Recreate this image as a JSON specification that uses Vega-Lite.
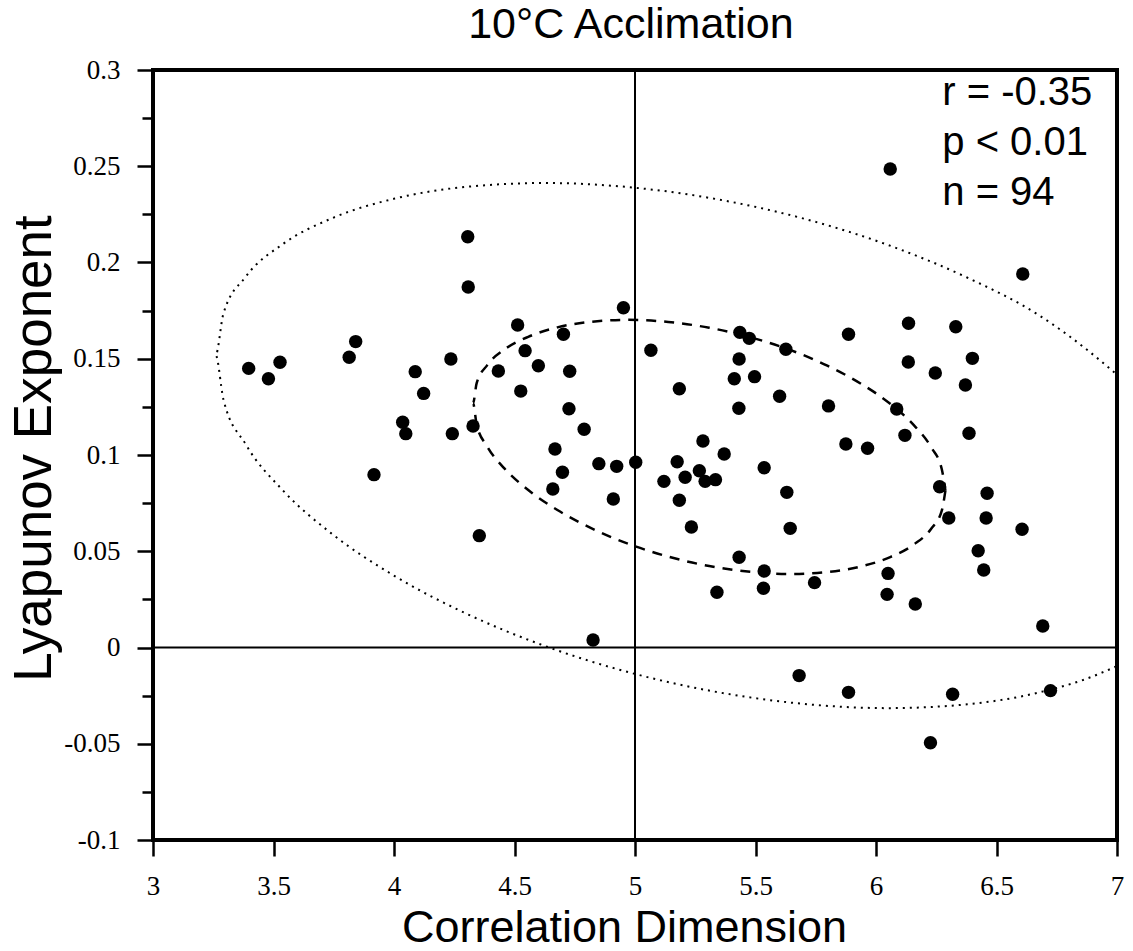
{
  "$schema": "https://vega.github.io/schema/vega-lite/v6.json",
  "width": 964,
  "height": 770,
  "autosize": {"type": "none"},
  "padding": {"left": 153, "top": 70, "right": 16, "bottom": 111},
  "background": "white",
  "config": {
    "view": {"stroke": "black", "strokeWidth": 4},
    "axis": {
      "domain": false,
      "grid": false,
      "tickColor": "black",
      "tickWidth": 2.5,
      "labelFont": "Liberation Serif",
      "labelFontSize": 27,
      "labelColor": "black",
      "labelOverlap": false,
      "labelFlush": false,
      "titleFont": "Liberation Sans",
      "titleFontWeight": "normal",
      "titleColor": "black"
    }
  },
  "datasets": {
    "points": [
      {"x":3.397,"y":0.1450},{"x":3.479,"y":0.1396},{"x":3.527,"y":0.1482},{"x":3.814,"y":0.1508},{"x":3.841,"y":0.1589},
      {"x":3.917,"y":0.0898},{"x":4.036,"y":0.1170},{"x":4.049,"y":0.1111},{"x":4.088,"y":0.1433},{"x":4.123,"y":0.1320},
      {"x":4.236,"y":0.1499},{"x":4.242,"y":0.1111},{"x":4.306,"y":0.2134},{"x":4.308,"y":0.1873},{"x":4.328,"y":0.1151},
      {"x":4.354,"y":0.0581},{"x":4.433,"y":0.1436},{"x":4.513,"y":0.1675},{"x":4.526,"y":0.1332},{"x":4.544,"y":0.1542},
      {"x":4.599,"y":0.1464},{"x":4.659,"y":0.0823},{"x":4.668,"y":0.1031},{"x":4.699,"y":0.0910},{"x":4.703,"y":0.1627},
      {"x":4.729,"y":0.1435},{"x":4.726,"y":0.1240},{"x":4.789,"y":0.1134},{"x":4.850,"y":0.0955},{"x":4.910,"y":0.0771},
      {"x":4.924,"y":0.0941},{"x":4.952,"y":0.1765},{"x":5.003,"y":0.0962},{"x":4.826,"y":0.0039},{"x":5.066,"y":0.1544},
      {"x":5.120,"y":0.0863},{"x":5.175,"y":0.0965},{"x":5.184,"y":0.1344},{"x":5.184,"y":0.0765},{"x":5.208,"y":0.0884},
      {"x":5.234,"y":0.0626},{"x":5.267,"y":0.0918},{"x":5.282,"y":0.1073},{"x":5.291,"y":0.0863},{"x":5.334,"y":0.0872},
      {"x":5.340,"y":0.0287},{"x":5.370,"y":0.1005},{"x":5.412,"y":0.1396},{"x":5.431,"y":0.1243},{"x":5.432,"y":0.1499},
      {"x":5.432,"y":0.0469},{"x":5.435,"y":0.1637},{"x":5.474,"y":0.1606},{"x":5.496,"y":0.1407},{"x":5.533,"y":0.0308},
      {"x":5.536,"y":0.0934},{"x":5.536,"y":0.0397},{"x":5.600,"y":0.1305},{"x":5.626,"y":0.1549},{"x":5.630,"y":0.0806},
      {"x":5.644,"y":0.0619},{"x":5.681,"y":-0.0146},{"x":5.745,"y":0.0337},{"x":5.803,"y":0.1255},{"x":5.875,"y":0.1057},
      {"x":5.886,"y":0.1627},{"x":5.886,"y":-0.0233},{"x":5.965,"y":0.1035},{"x":6.046,"y":0.0276},{"x":6.050,"y":0.0385},
      {"x":6.059,"y":0.2486},{"x":6.086,"y":0.1239},{"x":6.120,"y":0.1102},{"x":6.134,"y":0.1483},{"x":6.135,"y":0.1684},
      {"x":6.163,"y":0.0226},{"x":6.226,"y":-0.0495},{"x":6.246,"y":0.1426},{"x":6.264,"y":0.0835},{"x":6.302,"y":0.0673},
      {"x":6.318,"y":-0.0243},{"x":6.331,"y":0.1666},{"x":6.371,"y":0.1364},{"x":6.386,"y":0.1113},{"x":6.400,"y":0.1502},
      {"x":6.424,"y":0.0503},{"x":6.447,"y":0.0403},{"x":6.457,"y":0.0673},{"x":6.461,"y":0.0801},{"x":6.606,"y":0.0614},
      {"x":6.609,"y":0.1940},{"x":6.692,"y":0.0112},{"x":6.724,"y":-0.0224}
    ],
    "outer": [
      {"t":0,"x":7.418,"y":0.0579},{"t":10,"x":7.386,"y":0.0364},{"t":20,"x":7.292,"y":0.0170},{"t":30,"x":7.139,"y":0.0002},
      {"t":40,"x":6.931,"y":-0.0134},{"t":50,"x":6.675,"y":-0.0234},{"t":60,"x":6.378,"y":-0.0295},{"t":70,"x":6.050,"y":-0.0315},
      {"t":80,"x":5.700,"y":-0.0293},{"t":90,"x":5.339,"y":-0.0231},{"t":100,"x":4.978,"y":-0.0130},{"t":110,"x":4.628,"y":0.0007},
      {"t":120,"x":4.300,"y":0.0176},{"t":130,"x":4.003,"y":0.0371},{"t":140,"x":3.747,"y":0.0586},{"t":150,"x":3.539,"y":0.0816},
      {"t":160,"x":3.386,"y":0.1053},{"t":170,"x":3.292,"y":0.1290},{"t":180,"x":3.260,"y":0.1519},{"t":190,"x":3.292,"y":0.1734},
      {"t":200,"x":3.386,"y":0.1928},{"t":210,"x":3.539,"y":0.2096},{"t":220,"x":3.747,"y":0.2232},{"t":230,"x":4.003,"y":0.2332},
      {"t":240,"x":4.300,"y":0.2393},{"t":250,"x":4.628,"y":0.2413},{"t":260,"x":4.978,"y":0.2391},{"t":270,"x":5.339,"y":0.2329},
      {"t":280,"x":5.700,"y":0.2228},{"t":290,"x":6.050,"y":0.2091},{"t":300,"x":6.378,"y":0.1922},{"t":310,"x":6.675,"y":0.1727},
      {"t":320,"x":6.931,"y":0.1490},{"t":330,"x":7.139,"y":0.1250},{"t":340,"x":7.292,"y":0.1020},{"t":350,"x":7.386,"y":0.0800},
      {"t":360,"x":7.418,"y":0.0579}
    ],
    "inner": [
      {"t":0,"x":6.288,"y":0.0815},{"t":10,"x":6.273,"y":0.0711},{"t":20,"x":6.229,"y":0.0617},{"t":30,"x":6.157,"y":0.0535},
      {"t":40,"x":6.059,"y":0.0470},{"t":50,"x":5.938,"y":0.0421},{"t":60,"x":5.798,"y":0.0392},{"t":70,"x":5.643,"y":0.0382},
      {"t":80,"x":5.478,"y":0.0393},{"t":90,"x":5.308,"y":0.0423},{"t":100,"x":5.138,"y":0.0472},{"t":110,"x":4.973,"y":0.0538},
      {"t":120,"x":4.818,"y":0.0620},{"t":130,"x":4.678,"y":0.0714},{"t":140,"x":4.557,"y":0.0818},{"t":150,"x":4.459,"y":0.0929},
      {"t":160,"x":4.387,"y":0.1044},{"t":170,"x":4.343,"y":0.1158},{"t":180,"x":4.328,"y":0.1269},{"t":190,"x":4.343,"y":0.1373},
      {"t":200,"x":4.387,"y":0.1467},{"t":210,"x":4.459,"y":0.1549},{"t":220,"x":4.557,"y":0.1614},{"t":230,"x":4.678,"y":0.1663},
      {"t":240,"x":4.818,"y":0.1692},{"t":250,"x":4.973,"y":0.1702},{"t":260,"x":5.138,"y":0.1691},{"t":270,"x":5.308,"y":0.1661},
      {"t":280,"x":5.478,"y":0.1612},{"t":290,"x":5.643,"y":0.1546},{"t":300,"x":5.798,"y":0.1464},{"t":310,"x":5.938,"y":0.1370},
      {"t":320,"x":6.059,"y":0.1266},{"t":330,"x":6.157,"y":0.1155},{"t":340,"x":6.229,"y":0.1040},{"t":350,"x":6.273,"y":0.0926},
      {"t":360,"x":6.288,"y":0.0815}
    ],
    "vline": [{"x": 5}],
    "hline": [{"y": 0}],
    "titles": [{"label": "10°C Acclimation"}]
  },
  "layer": [
    {
      "data": {"name": "vline"},
      "mark": {"type": "rule", "color": "black", "strokeWidth": 2},
      "encoding": {
        "x": {"field": "x", "type": "quantitative", "scale": {"domain": [3, 7], "nice": false, "zero": false},
          "axis": {
            "values": [3, 3.5, 4, 4.5, 5, 5.5, 6, 6.5, 7],
            "labelExpr": "datum.value + ''",
            "tickSize": 16,
            "labelPadding": 17,
            "title": "Correlation Dimension",
            "titleFontSize": 45,
            "titleBaseline": "alphabetic",
            "titleAlign": "center",
            "titleX": 471,
            "titleY": 101
          }
        }
      }
    },
    {
      "data": {"name": "hline"},
      "mark": {"type": "rule", "color": "black", "strokeWidth": 2},
      "encoding": {
        "y": {"field": "y", "type": "quantitative", "scale": {"domain": [-0.1, 0.3], "nice": false, "zero": false},
          "axis": {
            "values": [-0.1, -0.075, -0.05, -0.025, 0, 0.025, 0.05, 0.075, 0.1, 0.125, 0.15, 0.175, 0.2, 0.225, 0.25, 0.275, 0.3],
            "labelExpr": "indexof([-0.1, -0.05, 0, 0.05, 0.1, 0.15, 0.2, 0.25, 0.3], datum.value) >= 0 ? datum.value + '' : ''",
            "tickSize": {"condition": {"test": "indexof([-0.1, -0.05, 0, 0.05, 0.1, 0.15, 0.2, 0.25, 0.3], datum.value) >= 0", "value": 16}, "value": 11},
            "labelPadding": 17,
            "title": "Lyapunov Exponent",
            "titleFontSize": 53,
            "titleAngle": -90,
            "titleBaseline": "alphabetic",
            "titleAlign": "center",
            "titleX": -103,
            "titleY": 378
          }
        }
      }
    },
    {
      "data": {"name": "outer"},
      "mark": {"type": "line", "color": "black", "strokeWidth": 2, "strokeDash": [2, 5], "clip": true, "interpolate": "monotone"},
      "encoding": {
        "x": {"field": "x", "type": "quantitative"},
        "y": {"field": "y", "type": "quantitative"},
        "order": {"field": "t", "type": "quantitative"}
      }
    },
    {
      "data": {"name": "inner"},
      "mark": {"type": "line", "color": "black", "strokeWidth": 2.5, "strokeDash": [10, 8], "clip": true, "interpolate": "monotone"},
      "encoding": {
        "x": {"field": "x", "type": "quantitative"},
        "y": {"field": "y", "type": "quantitative"},
        "order": {"field": "t", "type": "quantitative"}
      }
    },
    {
      "data": {"name": "points"},
      "mark": {"type": "circle", "color": "black", "opacity": 1, "size": 180},
      "encoding": {
        "x": {"field": "x", "type": "quantitative"},
        "y": {"field": "y", "type": "quantitative"}
      }
    },
    {
      "data": {"name": "titles"},
      "mark": {"type": "text", "font": "Liberation Sans", "fontSize": 40, "color": "black", "align": "left", "baseline": "alphabetic", "lineHeight": 50,
        "text": ["r = -0.35", "p < 0.01", "n = 94"]},
      "encoding": {
        "x": {"datum": 6.275, "type": "quantitative"},
        "y": {"datum": 0.2818, "type": "quantitative"}
      }
    },
    {
      "data": {"name": "titles"},
      "mark": {"type": "text", "font": "Liberation Sans", "fontSize": 43, "color": "black", "align": "center", "baseline": "alphabetic"},
      "encoding": {
        "x": {"datum": 4.983, "type": "quantitative"},
        "y": {"datum": 0.3166, "type": "quantitative"},
        "text": {"field": "label"}
      }
    }
  ]
}
